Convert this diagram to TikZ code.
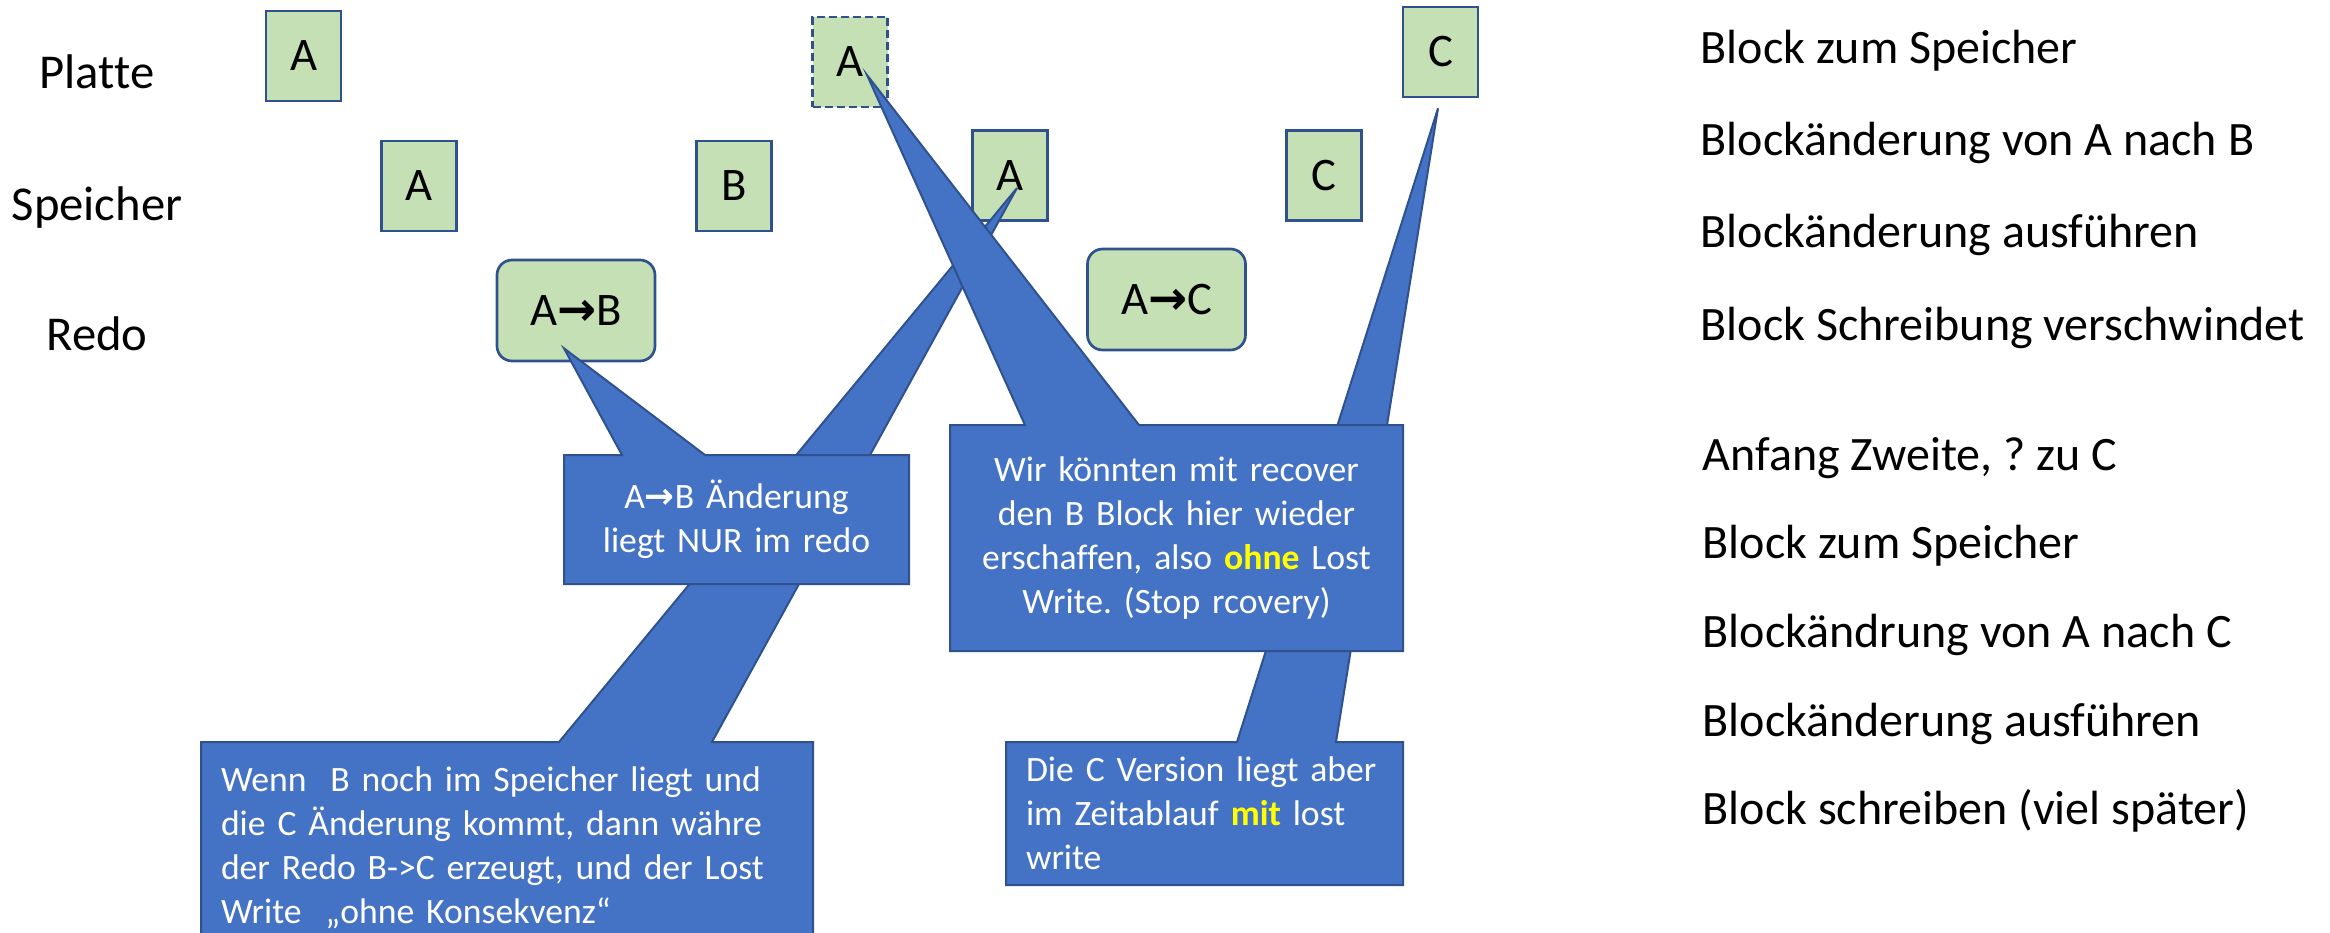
\documentclass[tikz,border=0pt]{standalone}
\usepackage{fontspec}
\setmainfont{Carlito}[Ligatures=NoCommon]
\newfontfamily\arrowfont{DejaVu Sans}
\usetikzlibrary{positioning, calc}
\definecolor{blockGreen}{HTML}{C5E0B4}
\definecolor{blockEdge}{HTML}{2F528F}
\definecolor{noteBlue}{HTML}{4472C4}
\definecolor{markYellow}{HTML}{FFFF00}
\pgfdeclarelayer{front}
\pgfsetlayers{main,front}
\newcommand{\blkto}{{\arrowfont\bfseries →}}
\frenchspacing

\begin{document}
\begin{tikzpicture}[x=0.3pt, y=-0.3pt,
    lane/.style={font=\fontsize{14.6pt}{17pt}\selectfont, anchor=base, inner sep=0pt},
    note/.style={font=\fontsize{14.4pt}{17pt}\selectfont, anchor=base west, inner sep=0pt},
    blk/.style={rectangle, draw=blockEdge, line width=0.8pt, fill=blockGreen,
                minimum width=22.5pt, minimum height=27pt, inner sep=0pt,
                font=\fontsize{14pt}{16pt}\selectfont},
    oldblk/.style={blk, dash pattern=on 2.4pt off 1.2pt},
    redoblk/.style={blk, rounded corners=4.5pt, minimum width=47.4pt, minimum height=30.3pt},
    callout/.style={fill=noteBlue, draw=blockEdge, line width=0.6pt},
    calltext/.style={text=white, font=\fontsize{10.7pt}{13.2pt}\selectfont,
                inner xsep=6pt, inner ysep=0pt, outer sep=0pt},
  ]
    \useasboundingbox (0,0) rectangle (2330,932);
    \clip (0,0) rectangle (2330,932);

    % Zeilen links
    \node[lane] (platte) at (97,88) {Platte};
    \node[lane, below=39.6pt of platte.base, anchor=base] (speicher) {Speicher};
    \node[lane, below=39pt of speicher.base, anchor=base] (redo) {Redo};

    % Bloecke
    \node[blk] (pA) at (303.5,56) {A};
    \node[blk] (sA) at (419,186) {A};
    \node[blk] (sB) at (734,186) {B};
    \node[redoblk] (rAB) at (576,310.5) {A\blkto B};
    \node[oldblk] (pAold) at (850,62) {A};
    \node[blk] (sA2) at (1010,175.5) {A};
    \node[redoblk] (rAC) at (1166.5,299.5) {A\blkto C};
    \node[blk] (sC) at (1324,175.5) {C};
    \node[blk] (pC) at (1440.5,52) {C};

    % Ablauf rechts
    \node[note] (n1) at (1700,63) {Block zum Speicher};
    \node[note, below=27.7pt of n1.base west, anchor=base west] (n2) {Blockänderung von A nach B};
    \node[note, below=27.7pt of n2.base west, anchor=base west] (n3) {Blockänderung ausführen};
    \node[note, below=27.7pt of n3.base west, anchor=base west] (n4) {Block Schreibung verschwindet};

    \node[note] (m1) at (1702,470) {Anfang Zweite, ? zu C};
    \node[note, below=26.6pt of m1.base west, anchor=base west] (m2) {Block zum Speicher};
    \node[note, below=26.6pt of m2.base west, anchor=base west] (m3) {Blockändrung von A nach C};
    \node[note, below=26.6pt of m3.base west, anchor=base west] (m4) {Blockänderung ausführen};
    \node[note, below=26.6pt of m4.base west, anchor=base west] (m5) {Block schreiben (viel später)};

    % Sprechblasen
    \begin{pgfonlayer}{front}
      \node[calltext, minimum width=119.1pt, minimum height=42.9pt, text width=107.1pt, align=left]
        (cver) at (1204.5,813.5) {Die C Version liegt aber\\ im Zeitablauf \textbf{\color{markYellow}mit} lost\\ write};
      \node[calltext, minimum width=183.6pt, minimum height=63.6pt, text width=171.6pt, align=left]
        (wenn) at (507,848) {Wenn\ \ B noch im Speicher liegt und\\ die C Änderung kommt, dann währe\\ der Redo B->C erzeugt, und der Lost\\ Write\ \ „ohne Konsekvenz“};
      \node[calltext, minimum width=103.5pt, minimum height=38.7pt, text width=91.5pt, align=center]
        (onlyredo) at (736.5,519.5) {A\blkto B Änderung\\ liegt NUR im redo};
      \node[calltext, minimum width=135.9pt, minimum height=67.8pt, text width=123.9pt, align=center]
        (recover) at (1176.5,538) {Wir könnten mit recover\\ den B Block hier wieder\\ erschaffen, also \textbf{\color{markYellow}ohne} Lost\\ Write. (Stop rcovery)};
    \end{pgfonlayer}

    \draw[callout] (cver.north west) -- ($(cver.north west)+(231,0)$) -- ($(pC.south)+(-2.5,10)$)
      -- ($(cver.north west)+(330,0)$) -- (cver.north east) -- (cver.south east) -- (cver.south west) -- cycle;
    \draw[callout] (wenn.north west) -- ($(wenn.north west)+(358,0)$) -- ($(sA2.center)+(7,12.5)$)
      -- ($(wenn.north west)+(511,0)$) -- (wenn.north east) -- (wenn.south east) -- (wenn.south west) -- cycle;
    \draw[callout] (onlyredo.north west) -- ($(onlyredo.north west)+(58,0)$) -- ($(rAB.south)+(-12,-14)$)
      -- ($(onlyredo.north west)+(141,0)$) -- (onlyredo.north east) -- (onlyredo.south east) -- (onlyredo.south west) -- cycle;
    \draw[callout] (recover.north west) -- ($(recover.north west)+(75,0)$) -- ($(pAold.center)+(17,13)$)
      -- ($(recover.north west)+(189,0)$) -- (recover.north east) -- (recover.south east) -- (recover.south west) -- cycle;
  \end{tikzpicture}
\end{document}
